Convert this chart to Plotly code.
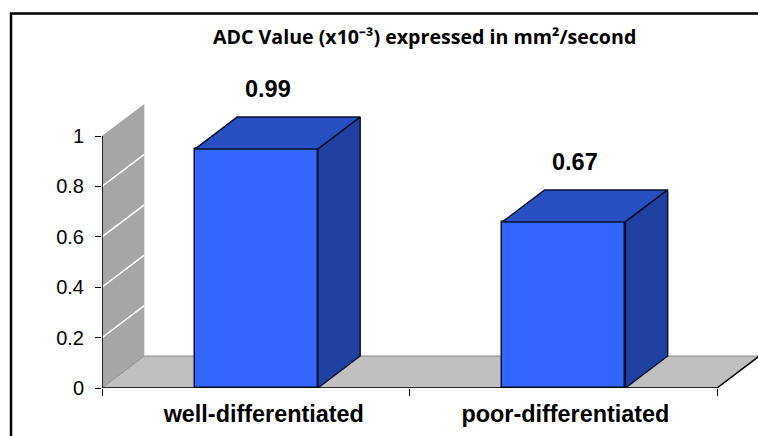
import plotly.graph_objects as go

# Data
categories = ["well-differentiated", "poor-differentiated"]
bar_heights = [0.948, 0.659]      # drawn height of each bar on the axis
value_labels = ["0.99", "0.67"]   # printed labels
y_ticks = [0, 0.2, 0.4, 0.6, 0.8, 1]
y_tick_labels = ["0", "0.2", "0.4", "0.6", "0.8", "1"]
title_text = "ADC Value (x10⁻³) expressed in mm²/second"

# Layout constants (pixels)
W, H = 758, 436
L, B = 102, 48
PX_X = 307.5   # px per category
PX_Y = 252.0   # px per y unit
DEPTH_PX = (42.3, 32.0)
BAR_W = 0.4
BAR_SHIFT = 0.002
LABEL_SHIFTS = [0.026, 0.007]   # category labels sit slightly right of centre

dx = DEPTH_PX[0] / PX_X
dy = DEPTH_PX[1] / PX_Y
n = len(categories)
centers = [i + 0.5 + BAR_SHIFT for i in range(n)]
label_pos = [i + 0.5 + s for i, s in zip(range(n), LABEL_SHIFTS)]

FRONT = "#3366FF"
TOP = "#2850C2"
SIDE = "#2040A2"
WALL = "#A6A6A6"
FLOOR = "#C0C0C0"
EDGE = "#0A1030"
SANS = "Liberation Sans, Arial, sans-serif"


def poly(pts):
    return "M " + " L ".join(f"{x},{y}" for x, y in pts) + " Z"


shapes = [
    dict(type="path", layer="below", xref="x", yref="y", fillcolor=WALL, line=dict(width=0),
         path=poly([(0, 0), (dx, dy), (dx, 1 + dy), (0, 1)])),
    dict(type="path", layer="below", xref="x", yref="y", fillcolor=FLOOR,
         line=dict(width=1, color="#8C8C8C"),
         path=poly([(0, 0), (dx, dy), (n + dx, dy), (n, 0)])),
]
for t in y_ticks[1:-1]:
    shapes.append(dict(type="line", layer="below", xref="x", yref="y", x0=0, y0=t, x1=dx, y1=t + dy,
                       line=dict(color="#FFFFFF", width=1.5)))

# Outer frame (left and top edges of the pasted figure)
fx = lambda p: (p - L) / (W - L)
fy = lambda p: (H - B - p) / (H - B)
shapes.append(dict(type="line", xref="paper", yref="paper", x0=fx(11), x1=fx(11), y0=fy(13), y1=fy(436),
                   line=dict(color="#000000", width=2.5)))
shapes.append(dict(type="line", xref="paper", yref="paper", x0=fx(10), x1=fx(758), y0=fy(13.5), y1=fy(13.5),
                   line=dict(color="#000000", width=2.5)))

fig = go.Figure()
fig.add_trace(go.Bar(x=centers, y=bar_heights, width=BAR_W,
                     marker=dict(color=FRONT, line=dict(color=EDGE, width=1.5)),
                     hoverinfo="skip", showlegend=False))

for c, h in zip(centers, bar_heights):
    l, r = c - BAR_W / 2, c + BAR_W / 2
    fig.add_trace(go.Scatter(x=[l, l + dx, r + dx, r, l], y=[h, h + dy, h + dy, h, h], mode="lines",
                             fill="toself", fillcolor=TOP, line=dict(color=EDGE, width=1.5),
                             hoverinfo="skip", showlegend=False))
    fig.add_trace(go.Scatter(x=[r, r + dx, r + dx, r, r], y=[0, dy, h + dy, h, 0], mode="lines",
                             fill="toself", fillcolor=SIDE, line=dict(color=EDGE, width=1.5),
                             hoverinfo="skip", showlegend=False))

# Axis lines: stop at the end of the data range
fig.add_trace(go.Scatter(x=[0, 0, n, n + dx], y=[1, 0, 0, dy], mode="lines",
                         line=dict(color="#000000", width=1.5), hoverinfo="skip", showlegend=False))

for c, h, lab in zip(centers, bar_heights, value_labels):
    fig.add_annotation(x=c + dx * 0.27, y=h + dy, text=f"<b>{lab}</b>", showarrow=False,
                       yanchor="bottom", yshift=13, font=dict(family=SANS, size=23.5, color="#000000"))

fig.add_annotation(xref="paper", yref="paper", x=fx(424), y=fy(36), text=f"<b>{title_text}</b>", showarrow=False,
                   xanchor="center", yanchor="middle",
                   font=dict(family="Open Sans, sans-serif", size=19.6, color="#000000"))

fig.update_layout(
    width=W, height=H, margin=dict(l=L, r=0, t=0, b=B),
    paper_bgcolor="#FFFFFF", plot_bgcolor="#FFFFFF", showlegend=False, shapes=shapes,
    bargap=0,
    xaxis=dict(range=[0, (W - L) / PX_X], tickvals=label_pos, ticktext=[f"<b>{c}</b>" for c in categories],
               ticks="", showgrid=False, zeroline=False, showline=False,
               tickfont=dict(family=SANS, size=23.4, color="#000000"),
               ticklabelstandoff=10,
               minor=dict(tickmode="array", tickvals=list(range(n + 1)), ticks="outside", ticklen=7, tickwidth=1,
                          tickcolor="#000000", showgrid=False)),
    yaxis=dict(range=[0, (H - B) / PX_Y], tickvals=y_ticks, ticktext=y_tick_labels, ticks="outside", ticklen=6,
               tickwidth=1, tickcolor="#000000", showgrid=False, zeroline=False, showline=False,
               tickfont=dict(family=SANS, size=20, color="#000000"), ticklabelstandoff=7),
)

fig.write_html("out.html", config=dict(displayModeBar=False),
               post_script="document.body.style.margin='0';")
